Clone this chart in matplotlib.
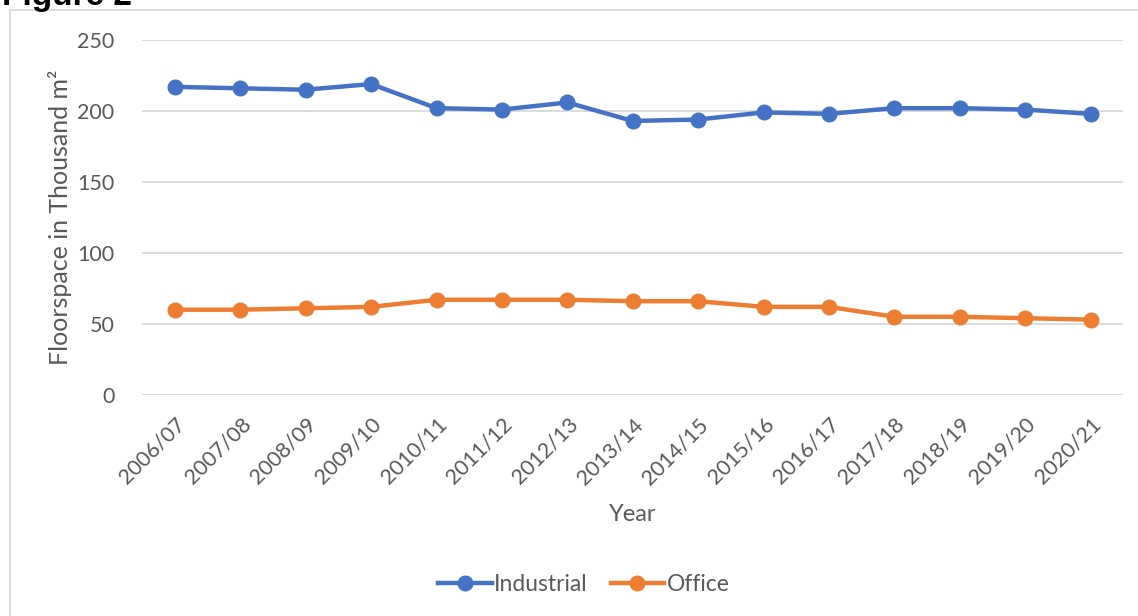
import matplotlib.pyplot as plt
from matplotlib.patches import Rectangle

years = ["2006/07", "2007/08", "2008/09", "2009/10", "2010/11", "2011/12", "2012/13",
         "2013/14", "2014/15", "2015/16", "2016/17", "2017/18", "2018/19", "2019/20", "2020/21"]
industrial = [217, 216, 215, 219, 202, 201, 206, 193, 194, 199, 198, 202, 202, 201, 198]
office = [60, 60, 61, 62, 67, 67, 67, 66, 66, 62, 62, 55, 55, 54, 53]

plt.rcParams['font.family'] = ['Lato', 'DejaVu Sans']
txt = '#595959'

fig = plt.figure(figsize=(11.38, 6.16), dpi=100)
ax = fig.add_axes([0.125, 0.359, 0.862, 0.576])

x = list(range(len(years)))
ax.plot(x, industrial, color='#4472c4', lw=3.2, marker='o', ms=10.5, label='Industrial')
ax.plot(x, office, color='#ed7d31', lw=3.2, marker='o', ms=10.5, label='Office')

ax.set_xlim(-0.5, len(years) - 0.5)
ax.set_ylim(0, 250)
ax.set_yticks([0, 50, 100, 150, 200, 250])
ax.yaxis.grid(True, color='#d9d9d9', lw=1.3)
ax.set_axisbelow(True)
for s in ax.spines.values():
    s.set_visible(False)
ax.tick_params(length=0, labelsize=15.5, colors=txt)
ax.tick_params(axis='y', pad=20)
ax.tick_params(axis='x', pad=14)
ax.set_xticks(x)
ax.set_xticklabels(years, rotation=45, ha='right', rotation_mode='anchor')

ax.set_xlabel("Year", fontsize=17, color=txt)
ax.xaxis.set_label_coords(0.5, -0.338)
ax.xaxis.label.set_va('center')
ax.set_ylabel("Floorspace in Thousand m²", fontsize=18, color=txt)
ax.yaxis.set_label_coords(-0.0836, 0.5)
ax.yaxis.label.set_va('center')

ax.legend(loc='center', bbox_to_anchor=(0.45, -0.535), ncol=2, frameon=False,
          fontsize=16.5, labelcolor=txt, handlelength=2.35, handletextpad=0.1, columnspacing=1.0)

fig.patches.append(Rectangle((10 / 1138, -0.1), 1.2, 1 - 10 / 616 + 0.1, transform=fig.transFigure,
                             fill=False, edgecolor='#d9d9d9', lw=1.3))
fig.text(0.002, 1 - 5 / 616, "Figure 2", fontsize=24, fontweight='bold', family='Liberation Sans',
         va='baseline', ha='left')

fig.savefig("out.png", dpi=100)
